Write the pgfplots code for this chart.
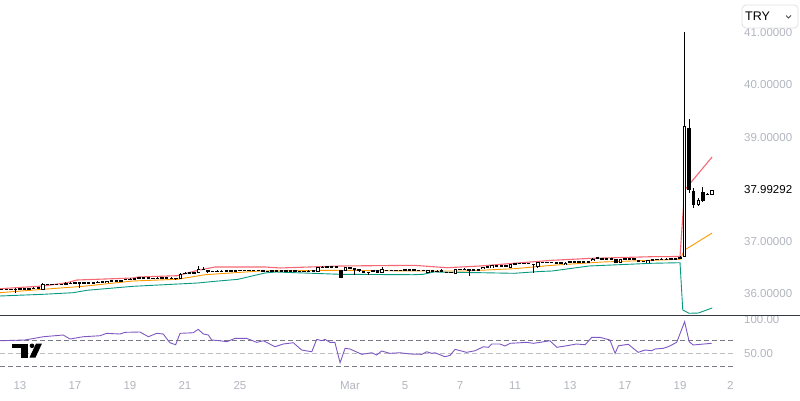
\documentclass[border=0pt]{standalone}
\usepackage{pgfplots}
\pgfplotsset{compat=1.18}
\usepackage{pgfplotstable}
\usepackage{fontspec}
\setmainfont{Liberation Sans}

\definecolor{bbup}{HTML}{F23645}
\definecolor{bbmid}{HTML}{FF9800}
\definecolor{bblow}{HTML}{089981}
\definecolor{rsiline}{HTML}{7E57C2}
\definecolor{scaletext}{HTML}{B2B5BE}
\definecolor{lvl}{HTML}{787B86}
\definecolor{sep}{HTML}{363A45}

% 4h candles, x = bar index (6 bars per trading day, 0 = Feb 13)
\pgfplotstableread{
k o h l c
-4 36.090 36.098 36.085 36.094
-3 36.094 36.100 36.088 36.092
-2 36.092 36.098 36.086 36.090
-1 36.090 36.121 36.025 36.094
0 36.094 36.100 36.088 36.096
1 36.096 36.104 36.090 36.100
2 36.100 36.106 36.094 36.104
3 36.104 36.125 36.100 36.112
4 36.112 36.130 36.108 36.118
5 36.075 36.205 36.071 36.186
6 36.186 36.195 36.180 36.190
7 36.198 36.201 36.178 36.182
8 36.186 36.194 36.180 36.188
9 36.186 36.192 36.180 36.188
10 36.190 36.222 36.188 36.205
11 36.205 36.228 36.200 36.210
12 36.210 36.216 36.204 36.212
13 36.214 36.230 36.121 36.208
14 36.212 36.218 36.206 36.214
15 36.214 36.220 36.208 36.216
16 36.214 36.220 36.208 36.218
17 36.218 36.240 36.205 36.228
18 36.228 36.234 36.222 36.230
19 36.216 36.258 36.214 36.254
20 36.254 36.260 36.248 36.256
21 36.256 36.262 36.250 36.254
22 36.254 36.260 36.248 36.256
23 36.290 36.295 36.272 36.275
24 36.280 36.310 36.278 36.290
25 36.290 36.312 36.286 36.296
26 36.300 36.316 36.296 36.310
27 36.310 36.318 36.304 36.312
28 36.312 36.318 36.306 36.314
29 36.306 36.310 36.288 36.290
30 36.296 36.330 36.292 36.310
31 36.310 36.316 36.302 36.306
32 36.306 36.312 36.300 36.308
33 36.312 36.316 36.294 36.296
34 36.296 36.302 36.290 36.298
35 36.293 36.395 36.290 36.389
36 36.395 36.420 36.390 36.405
37 36.405 36.425 36.400 36.410
38 36.410 36.416 36.404 36.412
39 36.408 36.530 36.405 36.473
40 36.470 36.517 36.466 36.478
41 36.445 36.458 36.410 36.438
42 36.445 36.448 36.428 36.430
43 36.428 36.450 36.425 36.434
44 36.434 36.452 36.430 36.438
45 36.438 36.455 36.434 36.440
46 36.440 36.456 36.436 36.444
47 36.421 36.458 36.419 36.454
48 36.452 36.460 36.448 36.456
49 36.456 36.462 36.450 36.454
50 36.454 36.460 36.448 36.456
51 36.456 36.462 36.450 36.452
52 36.452 36.458 36.446 36.454
53 36.452 36.455 36.434 36.436
54 36.436 36.444 36.430 36.440
55 36.440 36.446 36.434 36.438
56 36.438 36.444 36.432 36.440
57 36.440 36.456 36.436 36.444
58 36.444 36.450 36.438 36.440
59 36.440 36.458 36.436 36.446
60 36.450 36.452 36.434 36.436
61 36.436 36.442 36.430 36.438
62 36.438 36.444 36.432 36.436
63 36.436 36.452 36.432 36.440
64 36.440 36.446 36.434 36.438
65 36.421 36.525 36.418 36.517
66 36.512 36.535 36.508 36.518
67 36.518 36.538 36.514 36.522
68 36.522 36.540 36.516 36.520
69 36.520 36.538 36.514 36.518
70 36.454 36.460 36.305 36.312
71 36.440 36.522 36.436 36.517
72 36.508 36.512 36.498 36.503
73 36.503 36.506 36.358 36.473
74 36.473 36.476 36.430 36.434
75 36.424 36.428 36.414 36.420
76 36.421 36.424 36.358 36.418
77 36.434 36.456 36.420 36.444
78 36.454 36.458 36.404 36.408
79 36.408 36.517 36.404 36.484
80 36.458 36.462 36.448 36.454
81 36.454 36.460 36.448 36.456
82 36.456 36.462 36.450 36.452
83 36.452 36.468 36.448 36.458
84 36.458 36.466 36.452 36.462
85 36.462 36.470 36.456 36.464
86 36.464 36.470 36.456 36.458
87 36.458 36.464 36.450 36.452
88 36.448 36.462 36.444 36.452
89 36.408 36.462 36.405 36.459
90 36.459 36.462 36.418 36.421
91 36.430 36.458 36.418 36.440
92 36.459 36.478 36.424 36.427
93 36.427 36.430 36.405 36.408
94 36.421 36.424 36.405 36.408
95 36.383 36.488 36.380 36.484
96 36.478 36.482 36.468 36.473
97 36.470 36.490 36.466 36.476
98 36.462 36.465 36.344 36.458
99 36.458 36.464 36.452 36.460
100 36.460 36.466 36.454 36.462
101 36.473 36.526 36.470 36.522
102 36.520 36.524 36.510 36.514
103 36.492 36.552 36.489 36.549
104 36.540 36.546 36.532 36.536
105 36.536 36.542 36.530 36.538
106 36.538 36.544 36.532 36.534
107 36.503 36.572 36.500 36.568
108 36.572 36.600 36.568 36.584
109 36.584 36.602 36.580 36.588
110 36.586 36.600 36.582 36.590
111 36.590 36.596 36.584 36.588
112 36.570 36.574 36.408 36.566
113 36.522 36.616 36.503 36.612
114 36.612 36.618 36.604 36.608
115 36.608 36.614 36.602 36.610
116 36.610 36.616 36.604 36.612
117 36.604 36.610 36.598 36.600
118 36.606 36.610 36.590 36.592
119 36.561 36.603 36.558 36.599
120 36.612 36.622 36.608 36.616
121 36.616 36.622 36.610 36.618
122 36.618 36.624 36.612 36.614
123 36.614 36.620 36.608 36.618
124 36.618 36.624 36.612 36.620
125 36.632 36.680 36.628 36.676
126 36.685 36.710 36.680 36.692
127 36.680 36.686 36.672 36.676
128 36.676 36.682 36.670 36.678
129 36.678 36.684 36.672 36.674
130 36.664 36.668 36.596 36.599
131 36.599 36.668 36.596 36.664
132 36.672 36.682 36.668 36.676
133 36.676 36.682 36.670 36.678
134 36.689 36.692 36.648 36.651
135 36.645 36.648 36.610 36.612
136 36.630 36.636 36.624 36.628
137 36.599 36.648 36.596 36.645
138 36.650 36.672 36.646 36.660
139 36.660 36.676 36.656 36.664
140 36.664 36.680 36.660 36.666
141 36.662 36.684 36.650 36.672
142 36.670 36.684 36.666 36.674
143 36.672 36.686 36.668 36.676
144 36.683 36.720 36.680 36.714
145 36.714 41.014 36.700 39.215
146 39.177 39.350 37.933 37.990
147 37.971 38.030 37.646 37.703
148 37.703 37.837 37.684 37.799
149 37.952 38.054 37.770 37.786
150 37.900 37.940 37.896 37.914
151 37.895 38.000 37.890 37.993
}\candles

\pgfplotsset{
  tvaxis/.style={
    scale only axis, width=733pt,
    xmin=-4.36, xmax=155.56,
    axis line style={draw=none},
    major tick length=0pt, tick style={draw=none},
    ytick pos=right, yticklabel pos=right,
    yticklabel style={anchor=west, xshift=11pt, inner sep=0pt,
      text=scaletext, font=\fontsize{11.5}{12}\selectfont},
  },
  candlebar/.style 2 args={draw=none, mark=none, forget plot,
    error bars/.cd, y dir=both, y explicit, error mark=none,
    error bar style={draw=#1, line width=#2, line cap=butt, solid}},
}

\begin{document}
\begin{tikzpicture}
\path[use as bounding box] (0pt,0pt) rectangle (800pt,400pt);

% price panel
\begin{axis}[tvaxis, at={(0pt,85pt)}, anchor=south west, height=315pt,
  ymin=35.598, ymax=41.627,
  xtick=\empty,
  ytick={36,37,39,40,41},
  yticklabels={36.00000,37.00000,39.00000,40.00000,41.00000},
  extra y ticks={37.99292},
  extra y tick labels={37.99292},
  extra y tick style={yticklabel style={text=black}},
]
% Bollinger bands
\addplot[bbup, line width=1.1pt, opacity=0.75] coordinates {
(-4.36,36.101) (5.02,36.153) (10.25,36.216) (12.44,36.268) (24.65,36.306)
(25.75,36.325) (34.25,36.350) (38.84,36.454) (42.55,36.517) (53.45,36.517)
(56.73,36.498) (69.82,36.536) (85.96,36.549) (93.16,36.503) (100.36,36.536)
(107.78,36.588) (116.07,36.645) (124.8,36.683) (137.89,36.714) (144,36.718)
(145,37.990) (151,38.622)};
\addplot[bbmid, line width=0.9pt] coordinates {
(-4.36,36.025) (5.02,36.090) (13.75,36.147) (24.65,36.249) (34.25,36.281)
(40.36,36.369) (52.36,36.440) (69.82,36.454) (85.96,36.440) (96.87,36.440)
(107.78,36.484) (116.07,36.549) (126.98,36.612) (137.89,36.645) (144,36.664)
(145,36.842) (151,37.167)};
\addplot[bblow, line width=0.9pt] coordinates {
(-4.36,35.962) (5.02,35.994) (11.56,36.025) (14.62,36.071) (24.65,36.147)
(38.84,36.211) (42.55,36.243) (47.56,36.281) (53.45,36.402) (55.85,36.421)
(69.82,36.377) (85.75,36.369) (87.93,36.377) (90.33,36.421) (100.36,36.408)
(107.78,36.396) (113.45,36.431) (116.07,36.440) (124.15,36.536) (137.89,36.588)
(144,36.599) (144.6,35.694) (146,35.631) (148,35.636) (151,35.732)};

% candles: wicks, bodies, hollow interior of rising bars
\addplot[candlebar={black}{0.9pt}] table[x=k, y expr={(\thisrow{h}+\thisrow{l})/2},
  y error expr={(\thisrow{h}-\thisrow{l})/2}] {\candles};
\addplot[candlebar={black}{3.4pt}]
  table[x=k, y expr={(\thisrow{o}+\thisrow{c})/2},
  y error expr={max(abs(\thisrow{c}-\thisrow{o})/2,0.011)}] {\candles};
\addplot[unbounded coords=discard, candlebar={white}{1.6pt}]
  table[x=k, y expr={\thisrow{c}-\thisrow{o} > 0.036 ? (\thisrow{o}+\thisrow{c})/2 : nan},
  y error expr={(\thisrow{c}-\thisrow{o})/2-0.017}] {\candles};
\end{axis}

% RSI panel
\begin{axis}[tvaxis, at={(0pt,26pt)}, anchor=south west, height=59pt,
  ymin=19, ymax=107.5,
  ytick={50,100}, yticklabels={50.00,100.00},
  xtick={0,12,24,36,48,72,84,96,108,120,132,144},
  xticklabels={13,17,19,21,25,Mar,5,7,11,13,17,19},
  extra x ticks={155}, extra x tick labels={2},
  xticklabel style={anchor=base, yshift=-15pt, text=scaletext,
    font=\fontsize{11.5}{12}\selectfont},
]
\addplot[lvl, line width=0.8pt, dash pattern=on 5pt off 3pt] coordinates {(-4.36,70) (155.56,70)};
\addplot[lvl!50, line width=0.8pt, dash pattern=on 5pt off 3pt] coordinates {(-4.36,50) (155.56,50)};
\addplot[lvl, line width=0.8pt, dash pattern=on 5pt off 3pt] coordinates {(-4.36,30) (155.56,30)};
\addplot[rsiline, line width=0.9pt] coordinates {
(-4.38,68.9) (1.08,70) (5.1,74.9) (9.42,77.5) (10.92,71.5) (13.8,74.9)
(17.46,76.4) (18.9,80) (21.84,79) (22.92,81.5) (26.16,82) (28.02,74.9)
(29.82,80) (31.26,79) (32.7,65.9) (33.96,62.9) (34.92,80) (37.8,80.9)
(38.88,86) (40.02,79) (41.1,77.5) (41.82,70) (43.62,68.9) (45.12,67.4)
(46.92,72.5) (49.44,72.5) (51.66,66.5) (53.1,68.9) (53.82,66.5) (55.62,59.9)
(57.42,64) (59.64,65.9) (61.44,55) (63.66,52.4) (64.74,71) (65.82,68.9)
(66.54,71) (67.62,66.5) (68.7,66.5) (69.84,35.9) (70.92,57.5) (72,56.5)
(74.58,48.5) (76.74,50.9) (77.82,47.5) (78.9,53.5) (80.7,50) (82.92,50.9)
(85.08,49) (87.66,48.5) (88.74,52.4) (89.82,50) (90.54,50.9) (92.7,44.9)
(93.84,47) (94.92,56) (97.44,51.5) (99.3,53.9) (101.1,59.9) (102.18,59)
(102.9,64) (104.7,64) (105.84,61) (106.92,65) (110.58,66.5) (112.02,65)
(113.46,66.5) (115.62,68.9) (117.12,59) (119.28,61.4) (121.44,64) (123.3,62.9)
(124.74,74) (126.54,74) (128.7,70) (129.84,50) (130.56,61.4) (132.72,63.5)
(134.88,51.5) (136.38,55) (137.82,53.9) (138.54,56.5) (140.34,57.5) (141.42,59.9)
(143.28,66.5) (145,97.4) (146,67.4) (146.88,62.5) (148.38,63.5) (150.9,65)};
\end{axis}

% panel separator
\draw[sep, line width=1pt] (0pt,85pt) -- (800pt,85pt);

% currency selector
\draw[black!12, fill=white, rounded corners=4pt, line width=0.8pt] (742pt,372pt) rectangle (798pt,395pt);
\node[anchor=west, inner sep=0pt, font=\fontsize{12.5}{13}\selectfont] at (745pt,383.5pt) {TRY};
\draw[black!70, line width=0.8pt] (786pt,384.5pt) -- (788.5pt,382pt) -- (791pt,384.5pt);

% logo
\fill[black] (12pt,56.5pt) rectangle (28pt,52pt);
\fill[black] (20.5pt,52pt) rectangle (28pt,42.5pt);
\fill[black] (32pt,54.2pt) circle (2.3pt);
\fill[black] (36pt,56.5pt) -- (42pt,56.5pt) -- (35.5pt,42.5pt) -- (29.5pt,42.5pt) -- cycle;
\end{tikzpicture}
\end{document}
